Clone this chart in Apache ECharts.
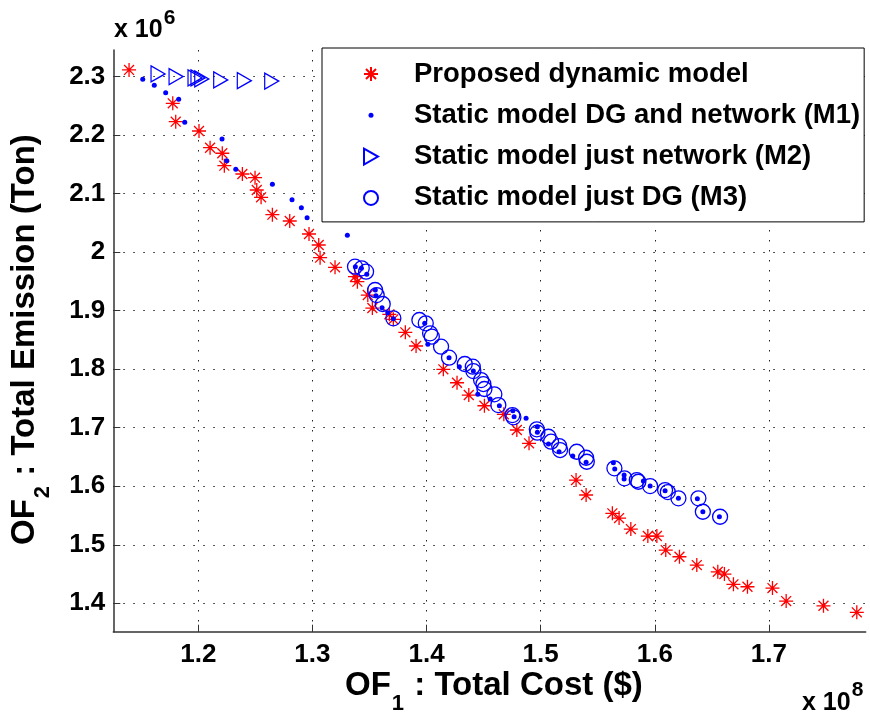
<!DOCTYPE html>
<html><head><meta charset="utf-8">
<script src="https://cdn.jsdelivr.net/npm/echarts@6/dist/echarts.min.js"></script>
<style>html,body{margin:0;padding:0;background:#fff}#c{width:870px;height:722px}</style>
</head><body><div id="c"></div>
<script>
// ---- data (x in 1e8 $, y in 1e6 Ton) ----
const seriesNames = ['Proposed dynamic model', 'Static model DG and network (M1)', 'Static model just network (M2)', 'Static model just DG (M3)'];
const xTicks = [1.2, 1.3, 1.4, 1.5, 1.6, 1.7];
const yTicks = [1.4, 1.5, 1.6, 1.7, 1.8, 1.9, 2.0, 2.1, 2.2, 2.3];
const dynamicModel = [
  [1.1393,2.3115],[1.1776,2.2545],[1.1802,2.2231],[1.2006,2.2072],[1.2103,2.1786],[1.2210,2.1691],
  [1.2228,2.1479],[1.2386,2.1337],[1.2497,2.1274],[1.2512,2.1063],[1.2550,2.0938],[1.2649,2.0641],
  [1.2801,2.0533],[1.2970,2.0311],[1.3055,2.0123],[1.3067,1.9906],[1.3198,1.9742],[1.3373,1.9581],
  [1.3394,1.9496],[1.3485,1.9268],[1.3525,1.9046],[1.3674,1.8938],[1.3709,1.8853],[1.3814,1.8631],
  [1.3908,1.8397],[1.4147,1.7998],[1.4267,1.7769],[1.4370,1.7559],[1.4507,1.7376],[1.4677,1.7229],
  [1.4791,1.6961],[1.4898,1.6733],[1.5310,1.6106],[1.5398,1.5850],[1.5628,1.5537],[1.5687,1.5456],
  [1.5790,1.5268],[1.5939,1.5149],[1.6018,1.5149],[1.6096,1.4909],[1.6216,1.4795],[1.6368,1.4653],
  [1.6552,1.4538],[1.6610,1.4499],[1.6689,1.4323],[1.6812,1.4282],[1.7031,1.4260],[1.7151,1.4038],
  [1.7478,1.3957],[1.7770,1.3845]
];
const staticM1 = [
  [1.1513,2.2956],[1.1614,2.2853],[1.1714,2.2726],[1.1828,2.2614],[1.1881,2.2221],[1.2208,2.1935],
  [1.2249,2.1564],[1.2328,2.1417],[1.2649,2.1161],[1.2821,2.0897],[1.2903,2.0761],[1.2953,2.0590],
  [1.3306,2.0289],[1.3376,1.9752],[1.3429,1.9725],[1.3476,1.9622],[1.3551,1.9354],[1.3557,1.9256],
  [1.3610,1.9051],[1.3660,1.8966],[1.3709,1.8863],[1.3984,1.8785],[1.4011,1.8426],[1.4197,1.8197],
  [1.4287,1.8043],[1.4410,1.7969],[1.4449,1.7571],[1.4557,1.7491],[1.4638,1.7376],[1.4756,1.7291],
  [1.4767,1.7188],[1.4872,1.7161],[1.4971,1.7017],[1.4971,1.6921],[1.5068,1.6721],[1.5161,1.6590],
  [1.5281,1.6516],[1.5398,1.6408],[1.5637,1.6402],[1.5649,1.6294],[1.5731,1.6191],[1.5731,1.6123],
  [1.5900,1.6089],[1.5959,1.6003],[1.6090,1.5923],[1.6207,1.5793],[1.6373,1.5786],[1.6421,1.5564],
  [1.6566,1.5479]
];
const staticM2 = [
  [1.1647,2.3046],[1.1805,2.3003],[1.1971,2.2978],[1.1997,2.2978],[1.2030,2.2961],[1.2196,2.2944],
  [1.2403,2.2932],[1.2643,2.2926]
];
const staticM3 = [
  [1.3373,1.9752],[1.3432,1.9725],[1.3470,1.9667],[1.3549,1.9354],[1.3563,1.9268],[1.3616,1.9115],
  [1.3709,1.8870],[1.3937,1.8841],[1.3993,1.8785],[1.4031,1.8614],[1.4046,1.8556],[1.4127,1.8385],
  [1.4197,1.8197],[1.4335,1.8089],[1.4405,1.8043],[1.4410,1.7969],[1.4478,1.7815],[1.4498,1.7747],
  [1.4507,1.7662],[1.4594,1.7571],[1.4629,1.7388],[1.4752,1.7217],[1.4761,1.7178],[1.4966,1.6973],
  [1.4971,1.6915],[1.5068,1.6846],[1.5091,1.6761],[1.5162,1.6687],[1.5170,1.6619],[1.5316,1.6590],
  [1.5398,1.6487],[1.5404,1.6419],[1.5646,1.6306],[1.5734,1.6135],[1.5842,1.6106],[1.5856,1.6077],
  [1.5959,1.6003],[1.6090,1.5935],[1.6114,1.5901],[1.6207,1.5793],[1.6382,1.5793],[1.6421,1.5564],
  [1.6572,1.5479]
];

// ---- styling ----
const FF = "'Liberation Sans', Arial, Helvetica, sans-serif";
const RED = '#ff0000', BLUE = '#0000ff';
const starPath = 'path://M5,0L5,10M0,5L10,5M1.46,1.46L8.54,8.54M8.54,1.46L1.46,8.54';
const triPath = 'path://M0,0L14,8L0,16Z';
const legStar = 'path://M0,0M16,16M8,1L8,15M1,8L15,8M3,3L13,13M13,3L3,13';
const legDot = 'path://M0,0M16,16M10.5,8A2.5,2.5,0,1,1,5.5,8A2.5,2.5,0,1,1,10.5,8Z';
const legTri = 'path://M0,0M16,16M1,0L15,8L1,16Z';
const legCirc = 'path://M0,0M16,16M15,8A7,7,0,1,1,1,8A7,7,0,1,1,15,8Z';

const cv = document.createElement('canvas').getContext('2d');
function tw(t, size) { cv.font = 'bold ' + size + 'px ' + FF; return cv.measureText(t).width; }
function txt(t, x, y, size, extra) {
  return Object.assign({ type: 'text', x: x, y: y, silent: true,
    style: { text: t, fontFamily: FF, fontWeight: 'bold', fontSize: size, fill: '#000', align: 'left', verticalAlign: 'middle' } }, extra || {});
}
const fmt = v => String(+(+v).toFixed(1));

// axis titles
const TS = 33, SS = 22, SUBOFF = 18;
const xt0 = 345, xtY = 686;
const xTitle = [
  txt('OF', xt0, xtY, TS),
  txt('1', xt0 + tw('OF', TS) + 1, xtY + SUBOFF, SS),
  txt(' : Total Cost ($)', xt0 + tw('OF', TS) + tw('1', SS) + 2, xtY, TS)
];
const yTitleGroup = {
  type: 'group', x: 25, y: 545, rotation: Math.PI / 2, silent: true,
  children: [
    txt('OF', 0, 0, TS),
    txt('2', tw('OF', TS) + 1, SUBOFF, SS),
    txt(' : Total Emission (Ton)', tw('OF', TS) + tw('2', SS) + 2, 0, TS)
  ]
};
const ES = 25, EXS = 21;
const exps = [
  txt('x 10', 114, 30, ES), txt('6', 114 + tw('x 10', ES) + 1, 18, EXS),
  txt('x 10', 802, 703, ES), txt('8', 802 + tw('x 10', ES) + 1, 690, EXS)
];

const chart = echarts.init(document.getElementById('c'), null, { renderer: 'canvas' });
const axisCommon = {
  type: 'value',
  axisLine: { show: true, onZero: false, lineStyle: { color: '#333', width: 1.5 } },
  axisTick: { show: true, inside: true, length: 7, lineStyle: { color: '#333', width: 1 } },
  splitLine: { show: true, lineStyle: { color: '#222', width: 1, type: [1.5, 8.5] } },
  axisLabel: { fontFamily: FF, fontWeight: 'bold', fontSize: 26, color: '#000', formatter: fmt }
};
chart.setOption({
  animation: false,
  backgroundColor: '#fff',
  grid: { left: 113.3, right: 4.3, top: 50, bottom: 90.3, containLabel: false },
  xAxis: Object.assign({}, axisCommon, {
    min: 1.1255, max: 1.7848,
    axisTick: Object.assign({}, axisCommon.axisTick, { customValues: xTicks }),
    axisLabel: Object.assign({}, axisCommon.axisLabel, { customValues: xTicks, margin: 10 }),
    splitLine: Object.assign({}, axisCommon.splitLine, { customValues: xTicks })
  }),
  yAxis: Object.assign({}, axisCommon, {
    min: 1.3514, max: 2.3456,
    axisTick: Object.assign({}, axisCommon.axisTick, { customValues: yTicks }),
    axisLabel: Object.assign({}, axisCommon.axisLabel, { customValues: yTicks, margin: 8 }),
    splitLine: Object.assign({}, axisCommon.splitLine, { customValues: yTicks })
  }),
  legend: {
    orient: 'vertical', left: 322, top: 48,
    padding: [11, 4, 9, 40], itemGap: 11.3,
    itemWidth: 76, itemHeight: 16,
    backgroundColor: '#fff', borderColor: '#000', borderWidth: 1,
    selectedMode: false,
    textStyle: { fontFamily: FF, fontSize: 27.5, fontWeight: 'bold', color: '#000', lineHeight: 30 },
    data: [
      { name: seriesNames[0], icon: legStar },
      { name: seriesNames[1], icon: legDot },
      { name: seriesNames[2], icon: legTri },
      { name: seriesNames[3], icon: legCirc }
    ]
  },
  series: [
    { name: seriesNames[0], type: 'scatter', data: dynamicModel, symbol: starPath, symbolSize: 14, silent: true,
      itemStyle: { color: RED, borderColor: RED, borderWidth: 1.3, opacity: 1 } },
    { name: seriesNames[1], type: 'scatter', data: staticM1, symbol: 'circle', symbolSize: 5, silent: true,
      itemStyle: { color: BLUE, borderWidth: 0, opacity: 1 } },
    { name: seriesNames[2], type: 'scatter', data: staticM2, symbol: triPath, symbolSize: [14, 16], silent: true,
      itemStyle: { color: 'rgba(0,0,0,0)', borderColor: BLUE, borderWidth: 1.3, opacity: 1 } },
    { name: seriesNames[3], type: 'scatter', data: staticM3, symbol: 'circle', symbolSize: 15, silent: true,
      itemStyle: { color: 'rgba(0,0,0,0)', borderColor: BLUE, borderWidth: 1.3, opacity: 1 } }
  ],
  graphic: xTitle.concat([yTitleGroup]).concat(exps)
});
</script></body></html>
